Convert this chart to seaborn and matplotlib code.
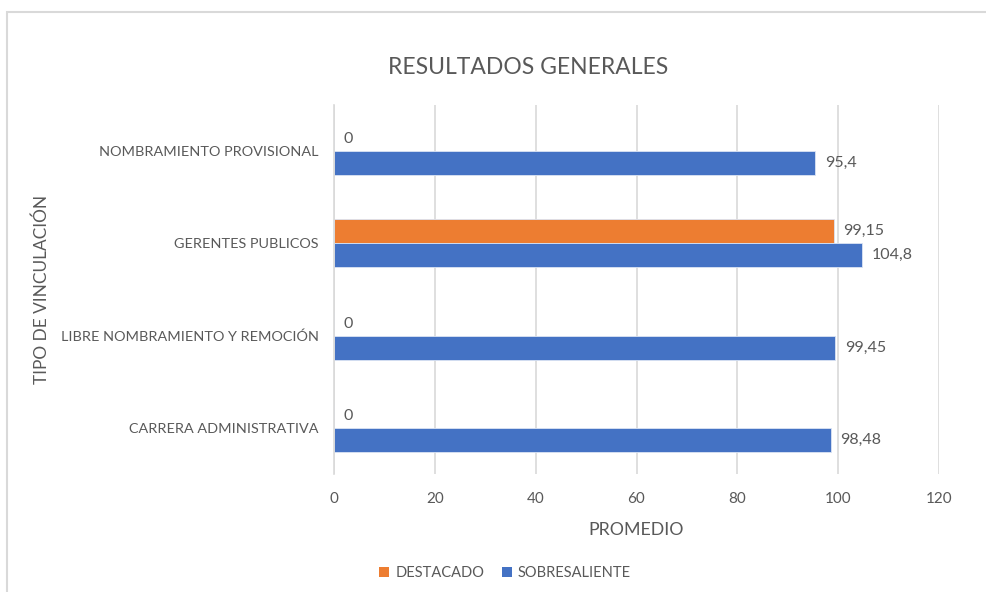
import matplotlib
matplotlib.use("Agg")
import matplotlib.pyplot as plt
import seaborn as sns
import pandas as pd
from matplotlib.patches import Rectangle, Patch

categories = ["NOMBRAMIENTO PROVISIONAL", "GERENTES PUBLICOS",
              "LIBRE NOMBRAMIENTO Y REMOCIÓN", "CARRERA ADMINISTRATIVA"]
series_names = ["DESTACADO", "SOBRESALIENTE"]
destacado = [0, 99.15, 0, 0]
sobresaliente = [95.4, 104.8, 99.45, 98.48]
x_ticks = [0, 20, 40, 60, 80, 100, 120]

df = pd.DataFrame({
    "cat": categories * 2,
    "serie": [series_names[0]] * 4 + [series_names[1]] * 4,
    "valor": destacado + sobresaliente,
})

sns.set_theme(style="white")
plt.rcParams["font.family"] = ["Lato", "DejaVu Sans"]

colors = {"DESTACADO": "#ED7D31", "SOBRESALIENTE": "#4472C4"}
gray = "#595959"

fig = plt.figure(figsize=(9.87, 5.92), dpi=100)
ax = fig.add_axes([334 / 987, 1 - 474 / 592, (939 - 334) / 987, (474 - 105) / 592])

sns.barplot(data=df, y="cat", x="valor", hue="serie", order=categories,
            hue_order=series_names, palette=colors, orient="h", width=0.52,
            saturation=1, ax=ax, legend=False, edgecolor="#dbe4f3", linewidth=0.6)

ax.set_xlim(0, 120)
ax.set_xticks(x_ticks)
ax.set_xticklabels([str(t) for t in x_ticks], color=gray, fontsize=11)
ax.tick_params(axis="x", length=0, pad=13)
ax.tick_params(axis="y", length=0, pad=11, labelsize=10.4, labelcolor=gray)
ax.grid(axis="x", color="#d9d9d9", linewidth=1.2)
ax.set_axisbelow(True)
for s in ["top", "right", "bottom"]:
    ax.spines[s].set_visible(False)
ax.spines["left"].set_color("#d9d9d9")
ax.spines["left"].set_linewidth(1.2)

def fmt(v):
    return ("%g" % v).replace(".", ",")

for cont in ax.containers:
    vals = [b.get_width() for b in cont]
    ax.bar_label(cont, labels=[fmt(v) for v in vals], padding=7,
                 color=gray, fontsize=11.5)

ax.set_ylabel("TIPO DE VINCULACIÓN", fontsize=12.4, color=gray, labelpad=0)
ax.yaxis.set_label_coords(-(334 - 50) / 605, 0.5)
ax.set_xlabel("PROMEDIO", fontsize=12.8, color=gray)
ax.xaxis.set_label_coords(0.5, -(522 - 474) / 369)

fig.text(528 / 987, 1 - 68 / 592, "RESULTADOS GENERALES", ha="center", va="center",
         fontsize=16.5, color=gray)

handles = [Patch(facecolor=colors[n], edgecolor="none") for n in series_names]
fig.legend(handles, series_names, loc="center", bbox_to_anchor=(505 / 987, 1 - 573 / 592),
           ncol=2, frameon=False, fontsize=10.5, labelcolor=gray,
           handlelength=0.7, handleheight=0.7, handletextpad=0.4, columnspacing=1.2)

fig.patches.append(Rectangle((7 / 987, -0.05), 1.1, 1 - 12 / 592 + 0.05,
                             transform=fig.transFigure, fill=False,
                             edgecolor="#d9d9d9", linewidth=1.5))

fig.savefig("out.png", dpi=100)
